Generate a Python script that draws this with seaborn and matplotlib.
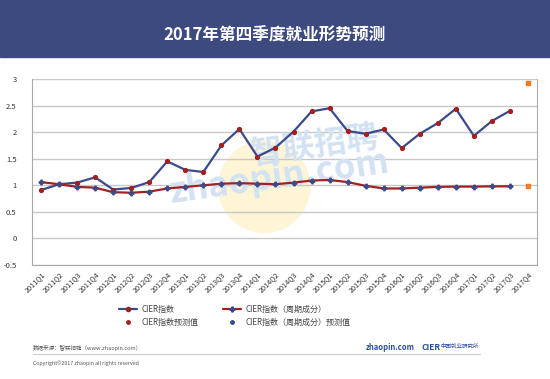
import numpy as np
import pandas as pd
import matplotlib
matplotlib.use('Agg')
import matplotlib.pyplot as plt
from matplotlib.lines import Line2D
from matplotlib.patches import Rectangle, Ellipse
import seaborn as sns

# ----------------------------------------------------------------------
# data
# ----------------------------------------------------------------------
quarters = [f'{y}Q{q}' for y in range(2011, 2018) for q in range(1, 5)]

cier_index = [0.91, 1.02, 1.05, 1.15, 0.92, 0.95, 1.06, 1.45,
              1.29, 1.25, 1.75, 2.06, 1.54, 1.71, 2.01, 2.39,
              2.45, 2.02, 1.97, 2.05, 1.70, 1.97, 2.17, 2.44,
              1.93, 2.21, 2.40]
cier_cycle = [1.06, 1.02, 0.97, 0.955, 0.87, 0.86, 0.88, 0.94,
              0.97, 1.00, 1.03, 1.04, 1.03, 1.02, 1.05, 1.09,
              1.10, 1.06, 0.99, 0.94, 0.94, 0.955, 0.97, 0.975,
              0.975, 0.98, 0.98]

forecast_quarter = '2017Q4'
cier_index_forecast = 2.92
cier_cycle_forecast = 0.99

yticks = [-0.5, 0, 0.5, 1, 1.5, 2, 2.5, 3]

# ----------------------------------------------------------------------
# style
# ----------------------------------------------------------------------
sns.set_style('white')
plt.rcParams['font.family'] = ['Noto Sans CJK SC', 'DejaVu Sans']

BLUE = '#3a4a8a'
RED = '#a3201f'
ORANGE = '#f47b20'
BANNER = '#3d4a80'
GRID = '#c8c8c8'
MARK = '#d3e2f3'

df = pd.DataFrame({
    'x': np.arange(len(cier_index)),
    'index': cier_index,
    'cycle': cier_cycle,
})
fx = quarters.index(forecast_quarter)

fig = plt.figure(figsize=(5.5, 3.79), dpi=100)

# banner
fig.patches.append(Rectangle((0, 1 - 57 / 379), 1, 57 / 379,
                             transform=fig.transFigure, color=BANNER, zorder=0))
fig.text(0.5, 1 - 36 / 379, '2017年第四季度就业形势预测', color='white',
         fontsize=12, fontweight='bold', ha='center', va='center')

ax = fig.add_axes([32 / 550, 1 - 265 / 379, 505 / 550, 186 / 379])

# watermark
ax.add_patch(Ellipse((0.46, 0.42), 0.18, 0.49, transform=ax.transAxes,
                     color='#fdf5d6', zorder=0))
ax.text(0.56, 0.64, '智联招聘', transform=ax.transAxes, fontsize=23,
        fontweight='bold', color=MARK, ha='center', va='center',
        rotation=8, zorder=1)
ax.text(0.49, 0.47, 'zhaopin.com', transform=ax.transAxes, fontsize=25,
        fontweight='bold', color=MARK, ha='center', va='center',
        rotation=8, zorder=1)

sns.lineplot(data=df, x='x', y='index', ax=ax, color=BLUE, linewidth=1.6,
             marker='o', markersize=3, markerfacecolor=RED,
             markeredgecolor=RED, zorder=3)
sns.lineplot(data=df, x='x', y='cycle', ax=ax, color=RED, linewidth=1.6,
             marker='P', markersize=3.5, markerfacecolor=BLUE,
             markeredgecolor=BLUE, zorder=3)
ax.scatter([fx, fx], [cier_index_forecast, cier_cycle_forecast],
           marker='s', s=6, color=ORANGE, zorder=4)

ax.set_xlim(-0.5, len(quarters) - 0.5)
ax.set_ylim(-0.5, 3)
ax.set_yticks(yticks)
ax.set_yticklabels([f'{v:g}' for v in yticks], fontsize=5.5, color='#333333')
ax.set_xticks(np.arange(len(quarters)))
ax.set_xticklabels(quarters, rotation=45, ha='right', rotation_mode='anchor',
                   fontsize=5.2, color='#333333')
ax.set_xticks(np.arange(len(quarters) + 1) - 0.5, minor=True)
ax.tick_params(axis='x', which='major', length=0, pad=4)
ax.tick_params(axis='x', which='minor', length=3, color='#888888', width=0.6)
ax.tick_params(axis='y', length=3, color='#888888', width=0.6, pad=8)
ax.set_xlabel('')
ax.set_ylabel('')
ax.yaxis.grid(True, color=GRID, linewidth=1.0)
ax.set_axisbelow(True)
for side in ['left', 'right', 'bottom']:
    ax.spines[side].set_color('#aaaaaa')
    ax.spines[side].set_linewidth(0.8)
ax.spines['top'].set_visible(False)

# legend
handles = [
    Line2D([], [], color=BLUE, lw=1.6, marker='o', ms=3,
           mfc=RED, mec=RED),
    Line2D([], [], color='none', marker='o', ms=2.5, mfc=RED, mec=RED),
    Line2D([], [], color=RED, lw=1.6, marker='P', ms=3.5,
           mfc=BLUE, mec=BLUE),
    Line2D([], [], color='none', marker='o', ms=2.5, mfc=BLUE, mec=BLUE),
]
labels = ['CIER指数', 'CIER指数预测值', 'CIER指数（周期成分）',
          'CIER指数（周期成分）预测值']
fig.legend(handles, labels, loc='center left', ncol=2, frameon=False,
           bbox_to_anchor=(112 / 550, 1 - 316 / 379), fontsize=5.8,
           handlelength=2.2, columnspacing=3.0, labelspacing=0.5,
           handletextpad=0.6, labelcolor='#444444')

# footer
fig.text(33 / 550, 1 - 348 / 379, '数据来源：智联招聘（www.zhaopin.com）',
         fontsize=4, color='#555555', va='center')
fig.add_artist(Line2D([33 / 550, 480 / 550], [1 - 354 / 379, 1 - 354 / 379],
                      transform=fig.transFigure, color='#cccccc', lw=0.8))
fig.text(33 / 550, 1 - 363 / 379, 'Copyright©2017 zhaopin all rights reserved',
         fontsize=3.8, color='#555555', va='center')
fig.text(366 / 550, 1 - 347 / 379, 'zhaopin.com', fontsize=5.5,
         fontweight='bold', fontstyle='italic', color='#2a4d9a', va='center')
fig.text(422 / 550, 1 - 347 / 379, 'CIER', fontsize=6, fontweight='bold',
         color='#2a4d9a', va='center')
fig.text(441 / 550, 1 - 346 / 379, '中国就业研究所', fontsize=4,
         color='#2a4d9a', va='center')

fig.savefig('out.png', dpi=100)
